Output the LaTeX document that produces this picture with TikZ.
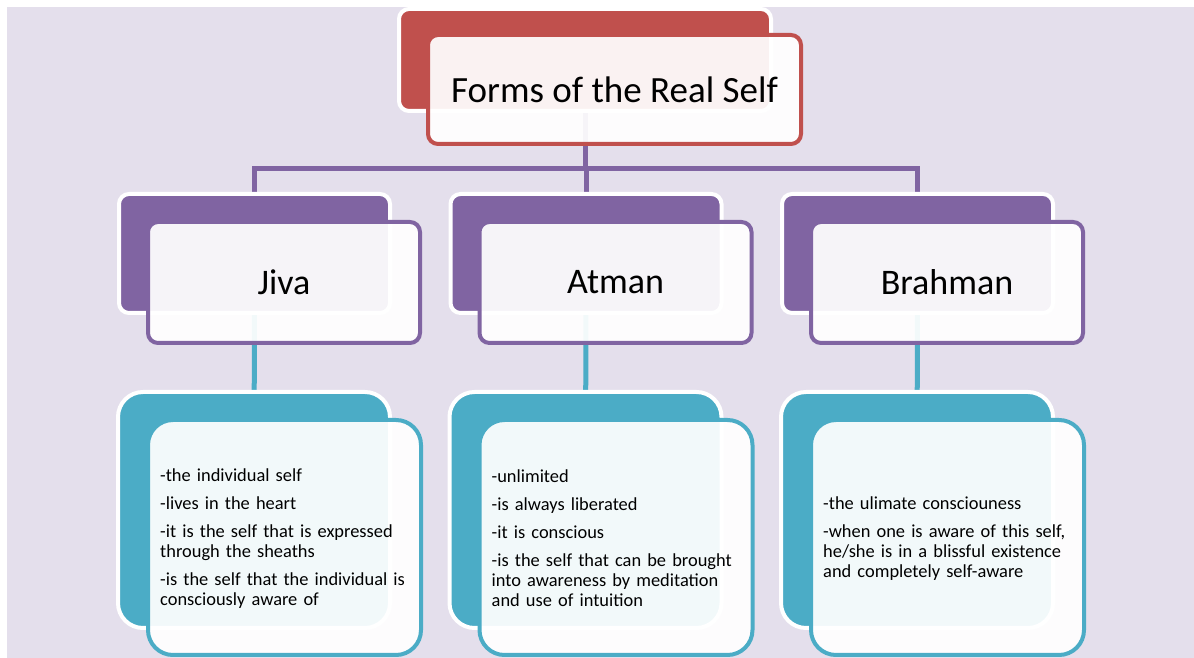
\documentclass[tikz,border=0pt]{standalone}
\usepackage{fontspec}
\setmainfont{Carlito}
\definecolor{bg}{HTML}{E4DFEC}
\definecolor{cred}{HTML}{C0504D}
\definecolor{cpur}{HTML}{8064A2}
\definecolor{ctea}{HTML}{4BACC6}
\pgfdeclarelayer{paper}
\pgfdeclarelayer{links}
\pgfsetlayers{paper,links,main}
\begin{document}
\begin{tikzpicture}[x=1pt,y=1pt,
  backbox/.style={rectangle, draw=white, line width=4pt, inner sep=0pt},
  frontbox/.style={rectangle, line width=4pt, fill=white, fill opacity=0.93, inner sep=0pt},
  lvtwoback/.style={backbox, fill=cpur, minimum width=271pt, minimum height=119pt, rounded corners=10pt},
  lvtwofront/.style={frontbox, draw=cpur, minimum width=272pt, minimum height=121pt, rounded corners=10pt},
  lvthreeback/.style={backbox, fill=ctea, minimum width=272pt, minimum height=236pt, rounded corners=25pt},
  lvthreefront/.style={frontbox, draw=ctea, minimum width=273pt, minimum height=235pt, rounded corners=25pt},
  titletext/.style={font=\fontsize{37}{44}\selectfont, inner sep=0pt},
  headtext/.style={font=\fontsize{36}{43}\selectfont, inner sep=0pt},
  bodytext/.style={font=\fontsize{18.4}{20}\selectfont, align=left, text width=250pt, inner sep=0pt, anchor=west},
  pconn/.style={draw=cpur, line width=5pt},
  tconn/.style={draw=ctea, line width=5pt}
]
\useasboundingbox (0,0) rectangle (1194,658);
\begin{pgfonlayer}{paper}
\fill[bg] (7,0) rectangle (1194,651);
\end{pgfonlayer}

\coordinate (bus) at (585,489);

% back boxes
\node[backbox, fill=cred, minimum width=372pt, minimum height=102pt, rounded corners=10pt] (topback) at (585,598) {};
\node[lvtwoback] (jback) at (254.5,404.5) {};
\node[lvtwoback] (aback) at (586,404.5) {};
\node[lvtwoback] (bback) at (917.5,404.5) {};
\node[lvthreeback] (jdback) at (254,148) {};
\node[lvthreeback] (adback) at (585.5,148) {};
\node[lvthreeback] (bdback) at (917,148) {};

% front boxes
\node[frontbox, draw=cred, minimum width=373pt, minimum height=109pt, rounded corners=10pt] (topfront) at (614.5,568.5) {};
\node[lvtwofront] (jfront) at (284,375.5) {};
\node[lvtwofront] (afront) at (615.5,375.5) {};
\node[lvtwofront] (bfront) at (947,375.5) {};
\node[lvthreefront] (jdfront) at (284.5,120.5) {};
\node[lvthreefront] (adfront) at (616,120.5) {};
\node[lvthreefront] (bdfront) at (947.5,120.5) {};

% connectors, behind the boxes
\begin{pgfonlayer}{links}
\draw[pconn] (topback.center) -- (topback.center |- bus);
\draw[pconn] (jback.center) -- (jback.center |- bus) -- (bback.center |- bus) -- (bback.center);
\draw[pconn] (aback.center) -- (aback.center |- bus);
\draw[tconn] (jback.center) -- (jdback.center);
\draw[tconn] (aback.center) -- (adback.center);
\draw[tconn] (bback.center) -- (bdback.center);
\end{pgfonlayer}

% texts
\node[titletext] (ttitle) at (topfront) {Forms of the Real Self};
\node[headtext] (tjiva) at (jfront) {Jiva};
\node[headtext] (tatman) at (afront) {Atman};
\node[headtext] (tbrahman) at (bfront) {Brahman};

\node[bodytext] (tjd) at ([xshift=14pt,yshift=-1pt]jdfront.west) {-the individual self\\[8pt]
-lives in the heart\\[8pt]
-it is the self that is expressed\\
through the sheaths\\[8pt]
-is the self that the individual is\\
consciously aware of};
\node[bodytext] (tad) at ([xshift=14pt,yshift=-1pt]adfront.west) {-unlimited\\[8pt]
-is always liberated\\[8pt]
-it is conscious\\[8pt]
-is the self that can be brought\\
into awareness by meditation\\
and use of intuition};
\node[bodytext] (tbd) at ([xshift=14pt,yshift=-1pt]bdfront.west) {-the ulimate consciouness\\[8pt]
-when one is aware of this self,\\
he/she is in a blissful existence\\
and completely self-aware};
\end{tikzpicture}
\end{document}
